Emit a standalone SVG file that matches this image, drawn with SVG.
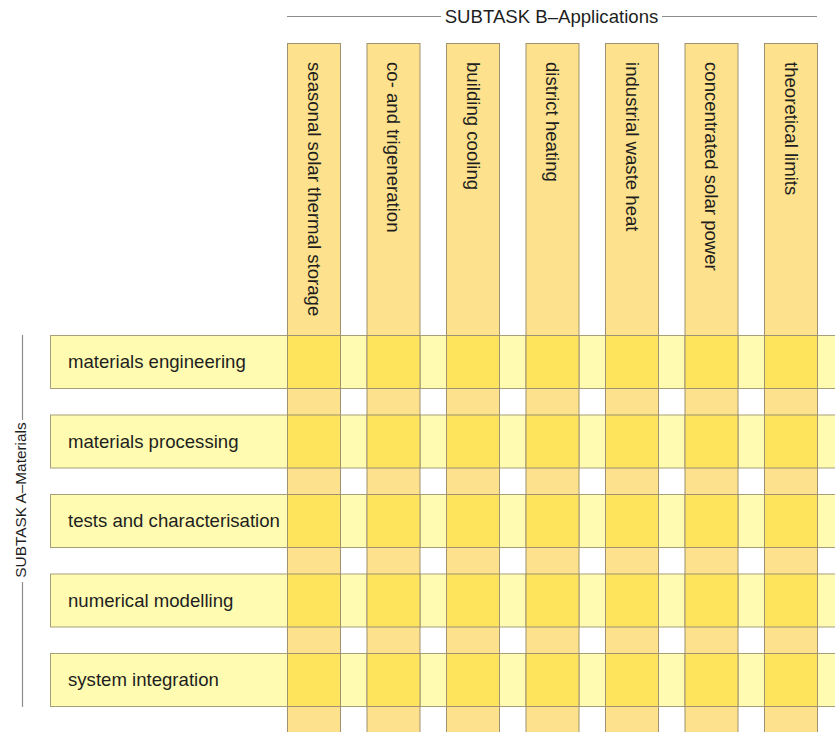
<svg xmlns="http://www.w3.org/2000/svg" width="835" height="732" viewBox="0 0 835 732">
  <style>
    text { font-family: "Liberation Sans", Arial, sans-serif; fill: #1e1e1e; }
    .row rect { fill: #FFFCB2; stroke: #A79F7A; stroke-width: 1; }
    .col rect { fill: #FDE18C; stroke: #9E9270; stroke-width: 1; }
    .cell { fill: #FEE45C; stroke: #9E9270; stroke-width: 1; }
    .lbl { font-size: 18.6px; }
    .head { font-size: 18.6px; }
    .side { font-size: 15.4px; }
    .rule { stroke: #8C8C8C; stroke-width: 1.2; fill: none; }
  </style>

  <defs>
    <rect id="cellbox" width="53" height="53"/>
  </defs>

  <rect width="835" height="732" fill="#ffffff"/>

  <!-- group headings with their bracket rules -->
  <g id="headings">
    <line class="rule" x1="287" y1="16.5" x2="441" y2="16.5"/>
    <line class="rule" x1="662" y1="16.5" x2="817" y2="16.5"/>
    <text class="head" x="551.5" y="23" text-anchor="middle">SUBTASK B–Applications</text>
    <line class="rule" x1="22.5" y1="335" x2="22.5" y2="420"/>
    <line class="rule" x1="22.5" y1="582" x2="22.5" y2="707"/>
    <text class="side" transform="translate(26,500) rotate(-90)" text-anchor="middle">SUBTASK A–Materials</text>
  </g>

  <!-- rows: subtask A materials topics -->
  <g id="row-materials-engineering" class="row">
    <rect x="50.5" y="335.5" width="800" height="53"/>
    <text class="lbl" x="68" y="368">materials engineering</text>
  </g>
  <g id="row-materials-processing" class="row">
    <rect x="50.5" y="415" width="800" height="53"/>
    <text class="lbl" x="68" y="447.5">materials processing</text>
  </g>
  <g id="row-tests-characterisation" class="row">
    <rect x="50.5" y="494.5" width="800" height="53"/>
    <text class="lbl" x="68" y="527">tests and characterisation</text>
  </g>
  <g id="row-numerical-modelling" class="row">
    <rect x="50.5" y="574" width="800" height="53"/>
    <text class="lbl" x="68" y="606.5">numerical modelling</text>
  </g>
  <g id="row-system-integration" class="row">
    <rect x="50.5" y="653.5" width="800" height="53"/>
    <text class="lbl" x="68" y="686">system integration</text>
  </g>

  <!-- columns: subtask B applications -->
  <g id="col-seasonal-storage" class="col">
    <rect x="287.5" y="43.5" width="53" height="700"/>
    <text class="lbl" transform="translate(307.5,62) rotate(90)">seasonal solar thermal storage</text>
  </g>
  <g id="col-trigeneration" class="col">
    <rect x="367" y="43.5" width="53" height="700"/>
    <text class="lbl" transform="translate(387,62) rotate(90)">co- and trigeneration</text>
  </g>
  <g id="col-building-cooling" class="col">
    <rect x="446.5" y="43.5" width="53" height="700"/>
    <text class="lbl" transform="translate(466.5,62) rotate(90)">building cooling</text>
  </g>
  <g id="col-district-heating" class="col">
    <rect x="526" y="43.5" width="53" height="700"/>
    <text class="lbl" transform="translate(546,62) rotate(90)">district heating</text>
  </g>
  <g id="col-industrial-waste-heat" class="col">
    <rect x="605.5" y="43.5" width="53" height="700"/>
    <text class="lbl" transform="translate(625.5,62) rotate(90)">industrial waste heat</text>
  </g>
  <g id="col-concentrated-solar" class="col">
    <rect x="685" y="43.5" width="53" height="700"/>
    <text class="lbl" transform="translate(705,62) rotate(90)">concentrated solar power</text>
  </g>
  <g id="col-theoretical-limits" class="col">
    <rect x="764.5" y="43.5" width="53" height="700"/>
    <text class="lbl" transform="translate(784.5,62) rotate(90)">theoretical limits</text>
  </g>

  <!-- crossing cells where a row meets a column -->
  <g id="crossings">
    <g transform="translate(0,335.5)">
      <use href="#cellbox" class="cell" x="287.5"/><use href="#cellbox" class="cell" x="367"/><use href="#cellbox" class="cell" x="446.5"/><use href="#cellbox" class="cell" x="526"/><use href="#cellbox" class="cell" x="605.5"/><use href="#cellbox" class="cell" x="685"/><use href="#cellbox" class="cell" x="764.5"/>
    </g>
    <g transform="translate(0,415)">
      <use href="#cellbox" class="cell" x="287.5"/><use href="#cellbox" class="cell" x="367"/><use href="#cellbox" class="cell" x="446.5"/><use href="#cellbox" class="cell" x="526"/><use href="#cellbox" class="cell" x="605.5"/><use href="#cellbox" class="cell" x="685"/><use href="#cellbox" class="cell" x="764.5"/>
    </g>
    <g transform="translate(0,494.5)">
      <use href="#cellbox" class="cell" x="287.5"/><use href="#cellbox" class="cell" x="367"/><use href="#cellbox" class="cell" x="446.5"/><use href="#cellbox" class="cell" x="526"/><use href="#cellbox" class="cell" x="605.5"/><use href="#cellbox" class="cell" x="685"/><use href="#cellbox" class="cell" x="764.5"/>
    </g>
    <g transform="translate(0,574)">
      <use href="#cellbox" class="cell" x="287.5"/><use href="#cellbox" class="cell" x="367"/><use href="#cellbox" class="cell" x="446.5"/><use href="#cellbox" class="cell" x="526"/><use href="#cellbox" class="cell" x="605.5"/><use href="#cellbox" class="cell" x="685"/><use href="#cellbox" class="cell" x="764.5"/>
    </g>
    <g transform="translate(0,653.5)">
      <use href="#cellbox" class="cell" x="287.5"/><use href="#cellbox" class="cell" x="367"/><use href="#cellbox" class="cell" x="446.5"/><use href="#cellbox" class="cell" x="526"/><use href="#cellbox" class="cell" x="605.5"/><use href="#cellbox" class="cell" x="685"/><use href="#cellbox" class="cell" x="764.5"/>
    </g>
  </g>
</svg>
